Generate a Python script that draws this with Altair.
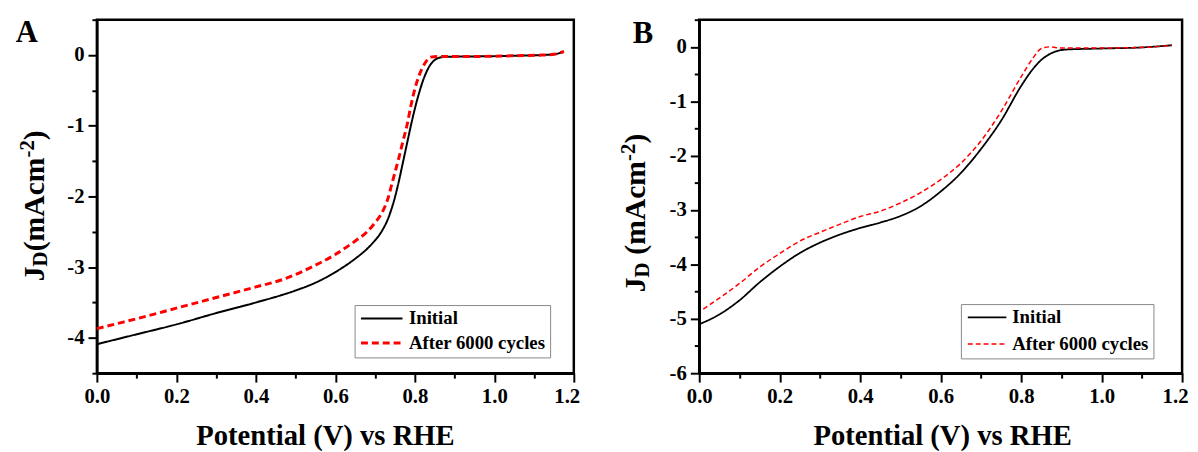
import altair as alt
import pandas as pd

SERIES = ["Initial", "After 6000 cycles"]

# ---- Panel A ----
A_init_x = [0.00, 0.05, 0.10, 0.20, 0.30, 0.40, 0.50, 0.55, 0.60, 0.65, 0.68, 0.70, 0.71, 0.72, 0.73, 0.74, 0.75, 0.76, 0.77, 0.78, 0.79, 0.80, 0.81, 0.82, 0.83, 0.84, 0.85, 0.86, 0.88, 0.95, 1.05, 1.12, 1.15, 1.175]
A_init_y = [-4.09, -4.02, -3.95, -3.81, -3.65, -3.50, -3.33, -3.22, -3.07, -2.88, -2.74, -2.62, -2.55, -2.46, -2.35, -2.20, -2.01, -1.78, -1.52, -1.26, -1.00, -0.76, -0.55, -0.37, -0.23, -0.13, -0.07, -0.04, -0.025, -0.02, -0.01, 0.00, 0.01, 0.05]
A_after_x = [0.00, 0.05, 0.10, 0.20, 0.30, 0.40, 0.47, 0.54, 0.60, 0.65, 0.68, 0.70, 0.72, 0.734, 0.74, 0.75, 0.76, 0.77, 0.78, 0.79, 0.80, 0.81, 0.82, 0.83, 0.84, 0.86, 0.95, 1.05, 1.12, 1.15, 1.175]
A_after_y = [-3.87, -3.80, -3.73, -3.58, -3.43, -3.28, -3.17, -3.00, -2.82, -2.63, -2.50, -2.37, -2.20, -2.00, -1.87, -1.66, -1.45, -1.22, -1.00, -0.72, -0.48, -0.30, -0.17, -0.08, -0.03, -0.02, -0.02, -0.01, 0.00, 0.01, 0.05]

# ---- Panel B ----
B_init_x = [0.00, 0.05, 0.10, 0.15, 0.20, 0.25, 0.30, 0.35, 0.40, 0.45, 0.50, 0.55, 0.60, 0.65, 0.70, 0.75, 0.80, 0.83, 0.85, 0.88, 0.91, 1.00, 1.10, 1.175]
B_init_y = [-5.10, -4.92, -4.66, -4.33, -4.04, -3.79, -3.60, -3.45, -3.33, -3.23, -3.11, -2.93, -2.66, -2.32, -1.88, -1.36, -0.72, -0.40, -0.24, -0.10, -0.05, -0.03, -0.01, 0.03]
B_after_x = [0.01, 0.05, 0.10, 0.15, 0.20, 0.25, 0.30, 0.35, 0.40, 0.45, 0.50, 0.55, 0.60, 0.65, 0.70, 0.75, 0.80, 0.83, 0.85, 0.87, 0.90, 1.00, 1.10, 1.175]
B_after_y = [-4.82, -4.62, -4.35, -4.05, -3.80, -3.57, -3.41, -3.26, -3.12, -3.02, -2.87, -2.68, -2.44, -2.14, -1.73, -1.19, -0.55, -0.20, -0.03, 0.00, -0.02, -0.02, -0.01, 0.03]

X_TICKS = [round(i * 0.1, 1) for i in range(13)]
A_Y_TICKS = [round(-4.5 + i * 0.5, 1) for i in range(11)]
B_Y_TICKS = [round(-6.0 + i * 0.5, 1) for i in range(14)]

FONT = "Liberation Serif"


def frame(xs, ys, name):
    return pd.DataFrame({"x": xs, "y": ys, "series": name})


def panel(init, after, ydom, yticks, width, height, dash_after, widths, leg, letter, title_parts, title_pos, xtitle_x):
    df_i = frame(init[0], init[1], SERIES[0])
    df_a = frame(after[0], after[1], SERIES[1])
    legend = alt.Legend(
        title=None, orient="none", legendX=leg["x"], legendY=leg["y"],
        strokeColor="#888888", fillColor="white", padding=leg["pad"],
        symbolType="M-1,0H5", symbolSize=leg["sym"], symbolStrokeWidth=leg["sw"],
        labelFont=FONT, labelFontSize=19, labelFontWeight="bold", labelColor="black",
        rowPadding=leg["row"], labelOffset=leg["off"],
    )
    enc = dict(
        x=alt.X("x:Q", scale=alt.Scale(domain=[0, 1.2], nice=False, zero=False),
                axis=alt.Axis(values=X_TICKS, labelFlush=False,
                              labelExpr="round(datum.value*10) % 2 == 0 ? format(datum.value, '.1f') : ''",
                              labelAlign={"condition": {"test": "datum.value > 1.15", "value": "right"}, "value": "center"},
                              labelOffset={"condition": {"test": "datum.value > 1.15", "value": 6}, "value": 0},
                              tickSize={"condition": {"test": "round(datum.value*10) % 2 == 0", "value": 9}, "value": 5},
                              title="Potential (V) vs RHE", titleFontSize=29, titlePadding=15,
                              titleX=xtitle_x, titleAnchor="middle")),
        y=alt.Y("y:Q", scale=alt.Scale(domain=ydom, nice=False, zero=False),
                axis=alt.Axis(values=yticks, labelFlush=False,
                              labelExpr="datum.value == round(datum.value) ? ('' + datum.value) : ''",
                              tickSize={"condition": {"test": "datum.value == round(datum.value)", "value": 9}, "value": 5},
                              title=None)),
        color=alt.Color("series:N", scale=alt.Scale(domain=SERIES, range=["black", "red"]), legend=legend),
        strokeDash=alt.StrokeDash("series:N", scale=alt.Scale(domain=SERIES, range=[[1, 0], dash_after]), legend=legend),
        strokeWidth=alt.StrokeWidth("series:N", scale=alt.Scale(domain=SERIES, range=widths), legend=None),
    )
    l1 = alt.Chart(df_i).mark_line(interpolate="monotone").encode(**enc)
    l2 = alt.Chart(df_a).mark_line(interpolate="monotone").encode(**enc)
    one = pd.DataFrame({"k": [0]})
    texts = [alt.Chart(one).mark_text(text=letter, x=title_pos["lx"], y=title_pos["ly"], font=FONT,
                                      fontSize=31, fontWeight="bold", align="center", baseline="alphabetic",
                                      color="black")]
    for txt, size, off, dx in title_parts:
        texts.append(alt.Chart(one).mark_text(text=txt, x=title_pos["tx"] + dx, y=title_pos["ty"] - off,
                                              angle=270, font=FONT, fontSize=size, fontWeight="bold",
                                              align="left", baseline="alphabetic", color="black"))
    return alt.layer(l1, l2, *texts).properties(width=width, height=height)


def title_pieces(space):
    # text, font size, offset along the title, baseline shift
    j = ("J", 30, 0, 0)
    d = ("D", 21, 15, 4)
    s = 7.5 if space else 0
    p = ("(mAcm", 30, 30.5 + s, 0)
    sup = ("-2", 21, 125.5 + s, -10)
    c = (")", 30, 143 + s, 0)
    return [j, d, p, sup, c]


pA = panel((A_init_x, A_init_y), (A_after_x, A_after_y), [-4.5, 0.5], A_Y_TICKS, 483, 358,
           [7, 4], [2, 3],
           {"x": 261, "y": 289, "pad": 4, "sym": 196, "sw": 2.5, "row": 5, "off": 32},
           "A", title_pieces(False), {"lx": -71, "ly": 23, "tx": -54, "ty": 265}, 231)
pB = panel((B_init_x, B_init_y), (B_after_x, B_after_y), [-6, 0.5], B_Y_TICKS, 489, 358,
           [5, 3], [1.8, 1.5],
           {"x": 265, "y": 288, "pad": 4, "sym": 169, "sw": 1.8, "row": 7, "off": 29},
           "B", title_pieces(True), {"lx": -57, "ly": 24, "tx": -55, "ty": 276}, 246)

chart = alt.hconcat(pA, pB, spacing=35).resolve_scale(
    color="independent", strokeDash="independent", strokeWidth="independent"
).properties(
    padding={"left": 6, "top": 5, "right": 0, "bottom": 0},
    background="white",
).configure_view(
    stroke="black", strokeWidth=2.5
).configure_axis(
    grid=False, domainColor="black", domainWidth=2.5, tickColor="black", tickWidth=2,
    labelFont=FONT, labelFontSize=21, labelFontWeight="bold", labelColor="black", labelPadding=4,
    titleFont=FONT, titleFontWeight="bold", titleColor="black",
).configure_legend(
    labelFont=FONT, labelFontSize=19, labelFontWeight="bold", labelColor="black",
)

chart.save("out.html", embed_options={"renderer": "svg", "actions": False})
